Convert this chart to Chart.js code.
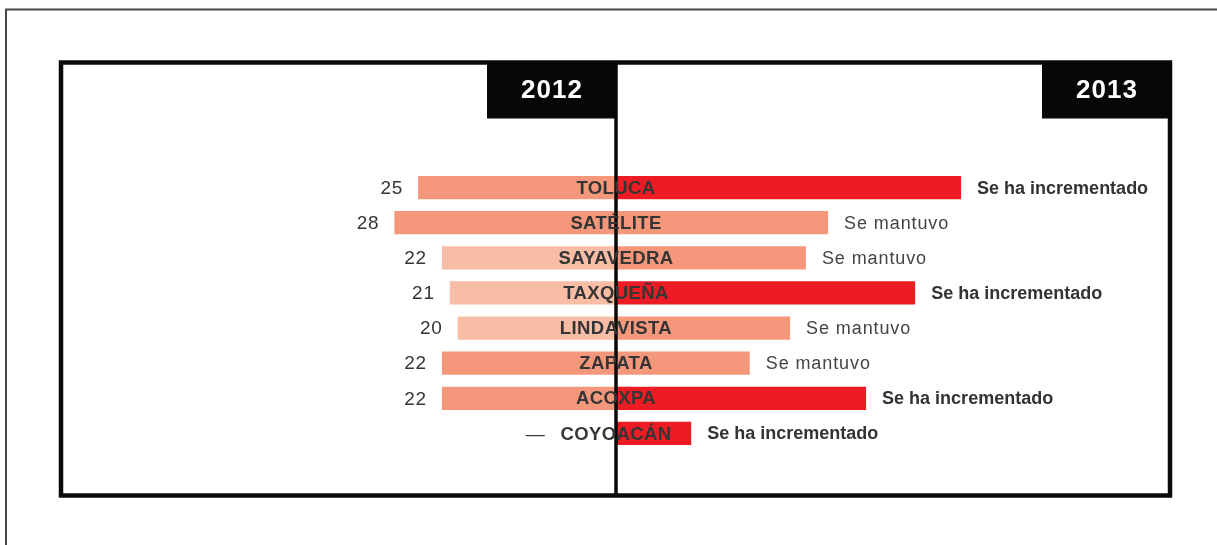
<!DOCTYPE html>
<html>
<head>
<meta charset="utf-8">
<script src="https://cdn.jsdelivr.net/npm/chart.js@4"></script>
<style>
  html, body { margin: 0; padding: 0; background: #fff; }
  canvas { display: block; }
</style>
</head>
<body>
<canvas id="myChart" width="1217" height="545"></canvas>
<script>
// data
const categories = ['TOLUCA', 'SATÉLITE', 'SAYAVEDRA', 'TAXQUEÑA', 'LINDAVISTA', 'ZAPATA', 'ACOXPA', 'COYOACÁN'];
const values2012 = [25, 28, 22, 21, 20, 22, 22, null];
const values2013 = [43.6, 26.8, 24, 37.8, 22, 16.9, 31.6, 9.5];
const status2013 = ['Se ha incrementado', 'Se mantuvo', 'Se mantuvo', 'Se ha incrementado', 'Se mantuvo', 'Se mantuvo', 'Se ha incrementado', 'Se ha incrementado'];
const years = ['2012', '2013'];

// colours
const SALMON = '#f4977b';
const LIGHT = '#f9bca5';
const RED = '#ed1c24';
const TEXT = '#353535';
const colors2012 = [SALMON, SALMON, LIGHT, LIGHT, LIGHT, SALMON, SALMON, SALMON];
const colors2013 = status2013.map(s => s === 'Se mantuvo' ? SALMON : RED);

const labelsPlugin = {
  id: 'labels',
  beforeDraw(chart) {
    const ctx = chart.ctx;
    ctx.save();
    // outer thin frame
    ctx.strokeStyle = '#484848';
    ctx.lineWidth = 2;
    ctx.beginPath();
    ctx.moveTo(6, 545);
    ctx.lineTo(6, 9.5);
    ctx.lineTo(1217, 9.5);
    ctx.stroke();
    ctx.restore();
  },
  afterDatasetsDraw(chart) {
    const ctx = chart.ctx;
    const area = chart.chartArea;
    const xs = chart.scales.x;
    const ys = chart.scales.y;
    const x0 = xs.getPixelForValue(0);
    const top = 62.5, bottom = 495.5;

    ctx.save();
    // inner box
    ctx.strokeStyle = '#0a0a0a';
    ctx.lineWidth = 4.5;
    ctx.strokeRect(area.left - 1, top, area.right - area.left + 1, bottom - top);

    // centre line
    ctx.lineWidth = 3.5;
    ctx.beginPath();
    ctx.moveTo(x0, top);
    ctx.lineTo(x0, bottom);
    ctx.stroke();

    // year tabs
    ctx.fillStyle = '#070707';
    ctx.fillRect(x0 - 129, top, 130, 56);
    ctx.fillRect(area.right - 128, top, 130, 56);
    ctx.fillStyle = '#ffffff';
    ctx.font = 'bold 26px "Liberation Sans", Arial, sans-serif';
    ctx.letterSpacing = '1px';
    ctx.textAlign = 'center';
    ctx.textBaseline = 'middle';
    ctx.fillText(years[0], x0 - 64, top + 28);
    ctx.fillText(years[1], area.right - 63, top + 28);

    categories.forEach((name, i) => {
      const y = ys.getPixelForValue(i) + 1;
      ctx.fillStyle = TEXT;
      ctx.textBaseline = 'middle';

      // category name, centred on the axis
      ctx.font = 'bold 18.5px "Liberation Sans", Arial, sans-serif';
      ctx.letterSpacing = '0.4px';
      ctx.textAlign = 'center';
      ctx.fillText(name, x0, y);
      const nameW = ctx.measureText(name).width;

      // 2012 value
      ctx.font = '19px "Liberation Sans", Arial, sans-serif';
      ctx.letterSpacing = '0.8px';
      ctx.textAlign = 'right';
      const v = values2012[i];
      if (v == null) {
        ctx.fillText('—', x0 - nameW / 2 - 15, y);
      } else {
        ctx.fillText(String(v), xs.getPixelForValue(-v) - 15, y);
      }

      // 2013 status
      const bold = status2013[i] !== 'Se mantuvo';
      ctx.font = (bold ? 'bold 18px' : '18px') + ' "Liberation Sans", Arial, sans-serif';
      ctx.letterSpacing = bold ? '0px' : '0.9px';
      ctx.fillStyle = bold ? '#333333' : '#444444';
      ctx.textAlign = 'left';
      ctx.fillText(status2013[i], xs.getPixelForValue(values2013[i]) + 16, y);
    });
    ctx.restore();
  }
};

const ctx = document.getElementById('myChart');
const myChart = new Chart(ctx, {
  type: 'bar',
  data: {
    labels: categories,
    datasets: [{
      label: years[0],
      data: values2012.map(v => v == null ? null : -v),
      backgroundColor: colors2012,
      borderWidth: 0
    }, {
      label: years[1],
      data: values2013,
      backgroundColor: colors2013,
      borderWidth: 0
    }]
  },
  options: {
    indexAxis: 'y',
    responsive: false,
    animation: false,
    devicePixelRatio: 1,
    barPercentage: 0.66,
    categoryPercentage: 1,
    layout: {
      padding: { left: 62, right: 47, top: 170, bottom: 94 }
    },
    scales: {
      x: { stacked: true, min: -70, max: 70, display: false },
      y: { stacked: true, display: false }
    },
    plugins: {
      legend: { display: false },
      tooltip: { enabled: false }
    }
  },
  plugins: [labelsPlugin]
});
</script>
</body>
</html>
